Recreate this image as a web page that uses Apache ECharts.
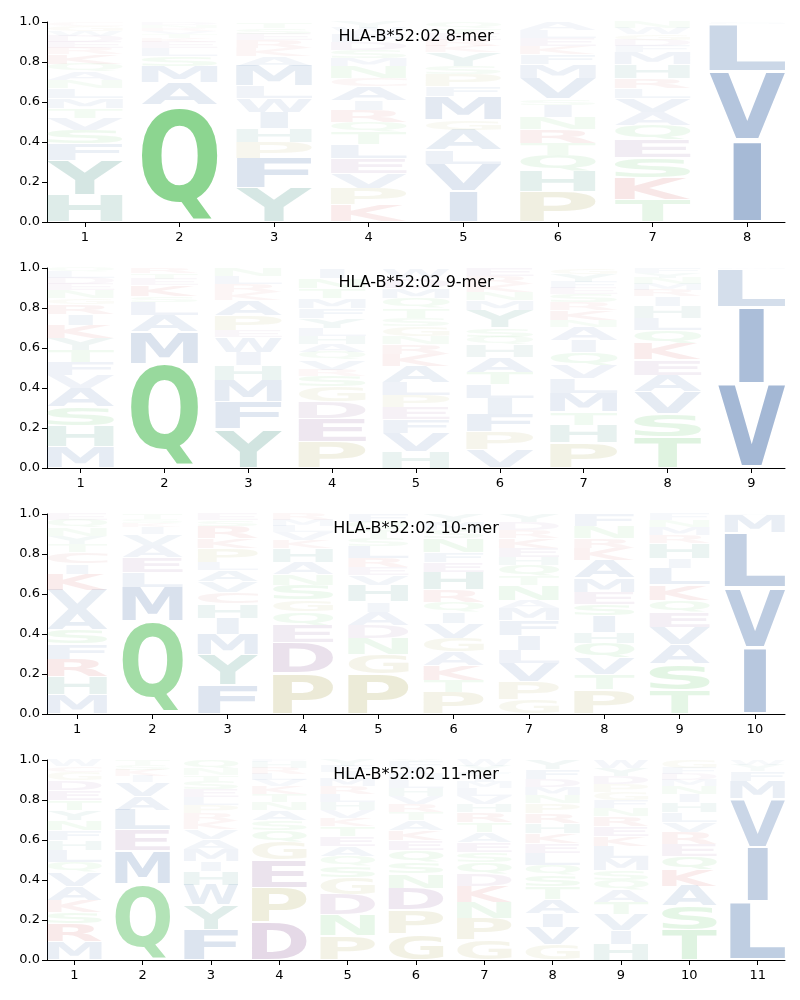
<!DOCTYPE html>
<html>
<head>
<meta charset="utf-8">
<script src="https://cdn.jsdelivr.net/npm/echarts@6/dist/echarts.min.js"></script>
<style>html,body{margin:0;padding:0;background:#fff}#main{width:800px;height:1000px}</style>
</head>
<body>
<div id="main"></div>
<script>
// ---- data: per position, [amino acid, probability], bottom to top ----
const titles = ['HLA-B*52:02 8-mer', 'HLA-B*52:02 9-mer', 'HLA-B*52:02 10-mer', 'HLA-B*52:02 11-mer'];
const yTicks = [0, 0.2, 0.4, 0.6, 0.8, 1.0];

const logo8 = [
 [['H',.135],['Y',.175],['F',.08],['S',.07],['V',.06],['T',.05],['M',.05],['L',.05],['N',.04],['A',.04],['Q',.04],['K',.05],['R',.03],['E',.03],['D',.03],['W',.025],['G',.025],['C',.02]],
 [['Q',.585],['A',.11],['M',.085],['S',.05],['L',.04],['E',.03],['K',.02],['T',.02],['V',.015],['R',.015],['N',.015],['D',.015]],
 [['Y',.17],['F',.15],['P',.08],['H',.07],['I',.08],['W',.07],['L',.06],['M',.10],['A',.05],['K',.04],['R',.04],['E',.03],['S',.03],['T',.03]],
 [['K',.085],['P',.085],['V',.075],['E',.075],['L',.07],['T',.06],['Q',.05],['R',.06],['I',.05],['A',.07],['C',.04],['N',.06],['M',.04],['S',.04],['D',.04],['F',.04],['W',.03],['Y',.03]],
 [['I',.155],['V',.135],['L',.07],['A',.10],['G',.05],['M',.12],['F',.05],['P',.06],['S',.04],['Y',.07],['K',.03],['R',.03],['E',.03],['T',.03],['Q',.03]],
 [['P',.15],['H',.105],['Q',.08],['T',.06],['R',.07],['N',.06],['I',.06],['S',.03],['V',.105],['M',.07],['F',.05],['K',.04],['E',.04],['L',.04],['A',.04]],
 [['T',.11],['K',.11],['S',.10],['E',.09],['Q',.075],['A',.065],['V',.07],['L',.05],['R',.05],['H',.07],['M',.06],['F',.03],['D',.03],['G',.03],['W',.03],['N',.03]],
 [['I',.41],['V',.345],['L',.235],['M',.006],['F',.004]]
];

const logo9 = [
 [['M',.105],['H',.105],['S',.095],['A',.095],['V',.065],['F',.065],['T',.06],['Y',.06],['K',.065],['I',.055],['R',.05],['G',.03],['N',.04],['E',.03],['D',.03],['L',.03],['Q',.02]],
 [['Q',.52],['M',.16],['A',.085],['L',.065],['S',.03],['K',.055],['E',.03],['T',.03],['R',.025]],
 [['Y',.195],['F',.135],['M',.11],['H',.075],['I',.065],['W',.075],['E',.035],['P',.075],['A',.075],['K',.04],['R',.04],['L',.04],['N',.04]],
 [['P',.13],['E',.115],['D',.085],['G',.075],['S',.055],['R',.03],['V',.05],['Q',.04],['A',.04],['H',.04],['L',.04],['Y',.05],['F',.05],['M',.05],['T',.05],['N',.05],['I',.05]],
 [['H',.08],['V',.095],['F',.07],['E',.06],['P',.06],['L',.065],['A',.08],['K',.06],['R',.05],['N',.04],['G',.05],['S',.04],['T',.05],['Q',.05],['M',.05],['D',.05],['W',.05]],
 [['V',.09],['P',.09],['F',.09],['I',.08],['L',.07],['T',.06],['A',.075],['H',.06],['Q',.04],['S',.045],['Y',.09],['M',.05],['N',.04],['K',.04],['R',.04],['E',.04]],
 [['P',.125],['H',.09],['T',.065],['M',.095],['L',.075],['V',.065],['Q',.065],['I',.06],['A',.065],['N',.035],['K',.05],['R',.04],['S',.04],['E',.03],['F',.03],['Y',.04],['G',.03]],
 [['T',.155],['S',.115],['V',.11],['A',.085],['E',.075],['K',.085],['Q',.065],['L',.06],['H',.06],['I',.047],['R',.033],['M',.03],['N',.03],['Y',.025],['F',.025]],
 [['V',.42],['I',.385],['L',.19],['M',.005]]
];

const logo10 = [
 [['M',.095],['H',.09],['R',.09],['F',.075],['S',.07],['A',.10],['V',.10],['K',.08],['I',.05],['C',.06],['T',.04],['Y',.04],['N',.04],['Q',.04],['E',.03]],
 [['Q',.465],['M',.17],['L',.075],['E',.075],['A',.06],['V',.055],['I',.035],['K',.02],['S',.02],['T',.025]],
 [['F',.145],['Y',.15],['M',.105],['I',.08],['H',.07],['C',.06],['V',.055],['A',.055],['L',.04],['P',.07],['K',.05],['R',.06],['S',.03],['E',.03]],
 [['P',.205],['D',.15],['E',.09],['Q',.065],['G',.06],['S',.075],['N',.055],['A',.06],['H',.07],['K',.04],['V',.04],['L',.03],['M',.03],['R',.03]],
 [['P',.20],['G',.10],['N',.08],['D',.065],['A',.065],['I',.05],['H',.085],['V',.05],['E',.04],['R',.045],['L',.06],['S',.04],['T',.04],['Q',.04],['F',.04]],
 [['P',.11],['T',.06],['K',.075],['A',.065],['G',.07],['V',.075],['I',.055],['Q',.05],['R',.06],['H',.09],['E',.05],['F',.05],['N',.07],['S',.04],['M',.04],['Y',.04]],
 [['G',.07],['P',.09],['V',.095],['L',.065],['I',.075],['F',.075],['M',.06],['A',.04],['N',.075],['T',.045],['Q',.055],['H',.04],['E',.045],['K',.05],['R',.04],['D',.04],['Y',.04]],
 [['P',.12],['T',.075],['V',.085],['Q',.075],['H',.055],['I',.08],['S',.06],['E',.06],['M',.07],['A',.09],['K',.06],['R',.05],['N',.06],['F',.06]],
 [['T',.12],['S',.13],['A',.095],['V',.09],['E',.075],['Q',.06],['K',.075],['L',.085],['I',.05],['H',.075],['R',.04],['M',.04],['N',.035],['F',.03]],
 [['I',.33],['V',.30],['L',.275],['M',.09],['F',.005]]
];

const logo11 = [
 [['M',.09],['R',.09],['S',.06],['K',.06],['A',.07],['V',.07],['Q',.05],['L',.06],['H',.05],['F',.05],['N',.05],['Y',.05],['T',.05],['E',.05],['D',.05],['G',.04],['C',.03],['W',.03]],
 [['Q',.38],['M',.165],['E',.105],['L',.10],['A',.07],['V',.07],['I',.03],['K',.03],['S',.025],['T',.025]],
 [['F',.15],['Y',.125],['W',.10],['H',.07],['I',.05],['M',.06],['A',.05],['V',.05],['K',.04],['R',.04],['P',.04],['L',.04],['E',.04],['S',.04],['T',.03],['N',.03],['Q',.045]],
 [['D',.19],['P',.17],['E',.14],['G',.09],['Q',.06],['S',.05],['A',.05],['N',.04],['T',.04],['K',.04],['V',.03],['L',.03],['R',.03],['H',.03],['F',.01]],
 [['P',.12],['N',.105],['D',.10],['G',.085],['S',.06],['Q',.05],['A',.05],['E',.05],['T',.05],['K',.04],['V',.04],['H',.04],['L',.04],['R',.04],['M',.04],['I',.03],['F',.03],['Y',.03]],
 [['G',.13],['P',.12],['D',.11],['N',.07],['S',.06],['Q',.06],['E',.05],['K',.05],['A',.05],['T',.04],['R',.04],['V',.04],['H',.04],['L',.04],['M',.03],['I',.03],['F',.03],['Y',.01]],
 [['G',.10],['P',.11],['N',.08],['K',.08],['D',.06],['Q',.06],['S',.05],['E',.05],['A',.05],['T',.05],['R',.05],['H',.04],['V',.04],['L',.04],['M',.03],['I',.03],['F',.02],['Y',.03],['W',.03]],
 [['G',.075],['V',.09],['I',.07],['A',.07],['T',.06],['S',.06],['Q',.05],['L',.06],['E',.05],['K',.05],['H',.05],['R',.05],['P',.05],['N',.04],['M',.04],['D',.04],['F',.05],['Y',.045]],
 [['H',.08],['I',.07],['V',.08],['T',.06],['A',.06],['Q',.05],['S',.05],['M',.06],['L',.06],['K',.05],['E',.05],['R',.05],['N',.04],['F',.04],['G',.04],['P',.04],['D',.04],['Y',.04],['W',.04]],
 [['T',.15],['S',.12],['A',.10],['K',.08],['Q',.07],['E',.06],['R',.06],['V',.05],['L',.05],['H',.05],['I',.04],['N',.04],['M',.03],['D',.03],['F',.03],['G',.04]],
 [['L',.29],['I',.275],['V',.24],['M',.09],['F',.05],['Y',.03],['W',.025]]
];

const logos = [logo8, logo9, logo10, logo11];

// ---- styles ----
const BASE = {
  A:[67,110,169], V:[67,110,169], L:[67,110,169], I:[67,110,169], M:[67,110,169], F:[67,110,169], W:[67,110,169],
  Y:[55,139,123], H:[55,139,123],
  Q:[83,192,90], N:[83,192,90], S:[83,192,90], T:[83,192,90],
  G:[175,170,90], P:[175,170,90],
  K:[205,80,80], R:[205,80,80],
  D:[140,90,150], E:[140,90,150],
  C:[200,110,110]
};
function colorOf(aa, p) {
  const c = BASE[aa] || [120,120,120];
  const a = Math.min(1, 0.015 + 1.12 * p);
  return 'rgba(' + c[0] + ',' + c[1] + ',' + c[2] + ',' + a.toFixed(3) + ')';
}

const FS = 200;
const FAM = 'DejaVu Sans';
const cv = document.createElement('canvas');
const ctx = cv.getContext('2d');
ctx.font = 'bold ' + FS + 'px "' + FAM + '"';
ctx.textBaseline = 'middle';
ctx.textAlign = 'left';
const metrics = {};
'ACDEFGHIKLMNPQRSTVWY'.split('').forEach(ch => {
  const m = ctx.measureText(ch);
  metrics[ch] = { l: m.actualBoundingBoxLeft, r: m.actualBoundingBoxRight,
                  a: m.actualBoundingBoxAscent, d: m.actualBoundingBoxDescent };
  metrics[ch].w = metrics[ch].l + metrics[ch].r;
});

const VPAD = 0.06;
const HALF_W = 0.4;

const GRID_LEFT = 47, GRID_W = 738, GRID_H = 200, GRID_TOP0 = 22, STEP = 246;

const grids = [], xAxes = [], yAxes = [], series = [], graphics = [];
logos.forEach((logo, k) => {
  const n = logo.length;
  const top = GRID_TOP0 + STEP * k;
  grids.push({ left: GRID_LEFT, top: top, width: GRID_W, height: GRID_H, containLabel: false });
  const xs = [];
  for (let i = 1; i <= n; i++) xs.push(i);
  xAxes.push({
    type: 'value', gridIndex: k, min: 0.6, max: n + 0.4,
    axisLine: { show: true, lineStyle: { color: '#000', width: 1 } },
    axisTick: { show: true, customValues: xs, length: 5, lineStyle: { color: '#000' } },
    axisLabel: { show: true, customValues: xs, color: '#000', fontFamily: FAM, fontSize: 13, margin: 9,
                 formatter: v => String(Math.round(v)) },
    splitLine: { show: false }
  });
  yAxes.push({
    type: 'value', gridIndex: k, min: 0, max: 1, interval: 0.2,
    axisLine: { show: true, lineStyle: { color: '#000', width: 1 } },
    axisTick: { show: true, length: 5, lineStyle: { color: '#000' } },
    axisLabel: { color: '#000', fontFamily: FAM, fontSize: 13, margin: 7, formatter: v => v.toFixed(1) },
    splitLine: { show: false }
  });
  const recs = [];
  logo.forEach((col, ci) => {
    let acc = 0;
    col.forEach(([aa, p]) => {
      recs.push([ci + 1, acc, acc + p, aa, p]);
      acc += p;
    });
  });
  series.push({
    type: 'custom', xAxisIndex: k, yAxisIndex: k, silent: true, animation: false,
    data: recs.map(r => [r[0], r[1], r[2]]),
    encode: { x: 0, y: [1, 2] },
    renderItem: function (params, api) {
      const r = recs[params.dataIndex];
      const pos = r[0], y0 = r[1], y1 = r[2], aa = r[3], p = r[4];
      const m = metrics[aa];
      const pad = (y1 - y0) * VPAD / 2;
      const pL = api.coord([pos - HALF_W, y0 + pad]);
      const pR = api.coord([pos + HALF_W, y1 - pad]);
      const boxW = pR[0] - pL[0];
      const bottom = pL[1], topY = pR[1];
      if (bottom - topY < 0.3) return null;
      const sxE = boxW / metrics.E.w;
      let sx = boxW / m.w;
      if (sx > sxE) sx = sxE;
      const inkW = m.w * sx;
      const cx = (pL[0] + pR[0]) / 2;
      const sy = (bottom - topY) / (m.a + m.d);
      return {
        type: 'text',
        x: cx - inkW / 2 + m.l * sx,
        y: topY + m.a * sy,
        scaleX: sx, scaleY: sy,
        style: { text: aa, fontSize: FS, fontWeight: 'bold', fontFamily: FAM,
                 fill: colorOf(aa, p), align: 'left', verticalAlign: 'middle' }
      };
    }
  });
  graphics.push({
    type: 'text', x: GRID_LEFT + GRID_W / 2, y: top + 15, z: 100,
    style: { text: titles[k], fill: '#000', fontSize: 16, fontFamily: FAM,
             align: 'center', verticalAlign: 'middle' }
  });
});

const chart = echarts.init(document.getElementById('main'), null, { renderer: 'canvas' });
chart.setOption({
  backgroundColor: '#fff',
  animation: false,
  grid: grids, xAxis: xAxes, yAxis: yAxes, series: series,
  graphic: { elements: graphics }
});
</script>
</body>
</html>
